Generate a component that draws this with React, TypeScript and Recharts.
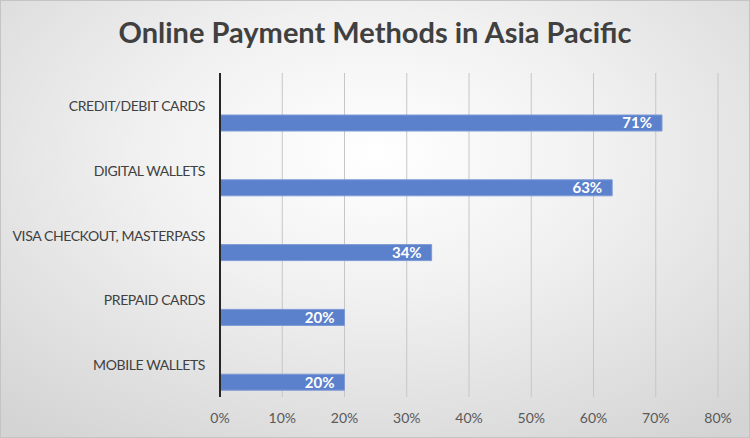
import { BarChart, Bar, XAxis, YAxis, CartesianGrid, LabelList } from 'recharts';

const categories = [
  'CREDIT/DEBIT CARDS',
  'DIGITAL WALLETS',
  'VISA CHECKOUT, MASTERPASS',
  'PREPAID CARDS',
  'MOBILE WALLETS',
];
const shares = [71, 63, 34, 20, 20];
const xTicks = [0, 10, 20, 30, 40, 50, 60, 70, 80];

const data = categories.map((name, i) => ({ name, value: shares[i] }));

const FONT = 'Lato, "Open Sans", sans-serif';

// plain text tick so long category names stay on one line
const CategoryTick = ({ x, y, payload }: any) => (
  <text
    x={x}
    y={y}
    textAnchor="end"
    dominantBaseline="central"
    fill="#404040"
    fontSize={14}
    letterSpacing={-0.4}
    fontFamily={FONT}
  >
    {payload.value}
  </text>
);

export default function App() {
  return (
    <div
      style={{
        position: 'relative',
        width: 750,
        height: 438,
        background: 'radial-gradient(ellipse 75% 80% at 50% 35%, #ffffff 0%, #f1f1f1 40%, #d4d4d4 100%)',
        boxShadow: 'inset 0 0 0 1px #c4c4c4',
        fontFamily: FONT,
      }}
    >
      <style>{`body { margin: 0; }`}</style>
      <div
        style={{
          position: 'absolute',
          top: 14,
          left: 0,
          width: 750,
          textAlign: 'center',
          fontSize: 29,
          fontWeight: 700,
          color: '#404040',
          lineHeight: '36px',
        }}
      >
        Online Payment Methods in Asia Pacific
      </div>
      <BarChart
        width={750}
        height={438}
        data={data}
        layout="vertical"
        barSize={16}
        barGap={19}
        margin={{ top: 73, right: 32, bottom: 11, left: 0 }}
      >
        <CartesianGrid vertical horizontal={false} stroke="#c6c6c6" />
        <XAxis
          type="number"
          domain={[0, 80]}
          ticks={xTicks}
          tickFormatter={(v) => `${v}%`}
          axisLine={false}
          tickLine={false}
          tickSize={0}
          tickMargin={16}
          height={30}
          tick={{ fill: '#595959', fontSize: 14, fontFamily: FONT }}
        />
        <YAxis
          type="category"
          dataKey="name"
          width={220}
          axisLine={{ stroke: '#262626', strokeWidth: 2 }}
          tickLine={false}
          tickSize={0}
          tickMargin={15}
          tick={<CategoryTick />}
        />
        {/* invisible bar that keeps the real one below the category label */}
        <Bar dataKey={(d: any) => d.value} name="spacer" fill="transparent" isAnimationActive={false} />
        <Bar dataKey="value" fill="#5b80cc" stroke="#7d9ad6" strokeWidth={1} isAnimationActive={false}>
          <LabelList
            dataKey="value"
            position="insideRight"
            offset={10}
            formatter={(v: number) => `${v}%`}
            fill="#ffffff"
            fontSize={15}
            fontWeight={700}
            fontFamily={FONT}
          />
        </Bar>
      </BarChart>
    </div>
  );
}
